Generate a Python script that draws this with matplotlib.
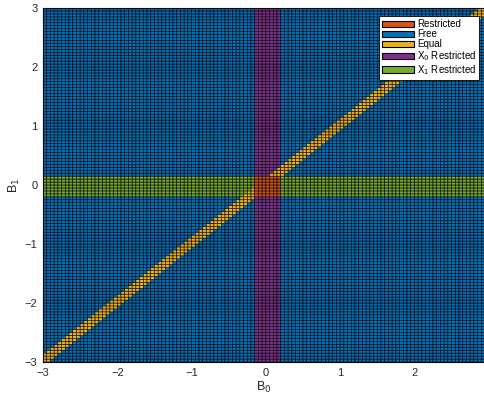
import numpy as np
import matplotlib
matplotlib.use('Agg')
import matplotlib.pyplot as plt
from matplotlib.colors import ListedColormap
from matplotlib.patches import Patch

# grid of (B0, B1) points, step 0.05
b0_edges = np.round(np.arange(-3.0, 2.951, 0.05), 2)
b1_edges = np.round(np.arange(-3.0, 3.001, 0.05), 2)

# region thresholds
x0_band = [-0.15, 0.15]    # B0 range where X0 is restricted
x1_band = [-0.2, 0.1]      # B1 range where X1 is restricted
equal_band = [-0.1, 0.05]  # B0 - B1 range treated as equal

labels = ['Restricted', 'Free', 'Equal', 'X$_0$ Restricted', 'X$_1$ Restricted']
colors = ['#D95319', '#0072BD', '#EDB120', '#7E2F8E', '#77AC30']


def classify(b0, b1):
    in0 = x0_band[0] - 1e-9 <= b0 <= x0_band[1] + 1e-9
    in1 = x1_band[0] - 1e-9 <= b1 <= x1_band[1] + 1e-9
    if in0 and in1:
        return 0
    if equal_band[0] - 1e-9 <= b0 - b1 <= equal_band[1] + 1e-9:
        return 2
    if in0:
        return 3
    if in1:
        return 4
    return 1


def main():
    plt.rcParams['font.family'] = ['Liberation Sans', 'DejaVu Sans']
    # cells take the value at their lower-left corner (as matlab pcolor)
    C = np.array([[classify(x, y) for x in b0_edges[:-1]] for y in b1_edges[:-1]])

    fig = plt.figure(figsize=(4.85, 3.94), dpi=100)
    ax = fig.add_axes([0.0887, 0.0812, 0.9113, 0.8985])
    ax.pcolormesh(b0_edges, b1_edges, C, cmap=ListedColormap(colors), vmin=-0.5, vmax=4.5,
                  edgecolors='black', linewidth=0.4, antialiased=True, snap=False)
    ax.set_xlim(b0_edges[0], b0_edges[-1])
    ax.set_ylim(b1_edges[0], b1_edges[-1])
    ax.set_xticks([-3, -2, -1, 0, 1, 2])
    ax.set_yticks([-3, -2, -1, 0, 1, 2, 3])
    ax.tick_params(direction='in', labelsize=8, labelcolor='#262626', length=0, pad=4)
    ax.set_xlabel('B$_0$', fontsize=9, color='#262626', labelpad=2)
    ax.set_ylabel('B$_1$', fontsize=9, color='#262626', labelpad=2)

    handles = [Patch(facecolor=c, edgecolor='black', linewidth=0.8) for c in colors]
    leg = ax.legend(handles, labels, loc='upper right', fontsize=7, frameon=True, fancybox=False,
                    framealpha=1, edgecolor='black', handlelength=3.3, handleheight=0.7,
                    handletextpad=0.3, labelspacing=0.0, borderpad=0.3,
                    bbox_to_anchor=(0.998, 0.99))
    leg.get_frame().set_linewidth(0.6)

    fig.savefig('out.png', dpi=100)


if __name__ == "__main__":
    main()
